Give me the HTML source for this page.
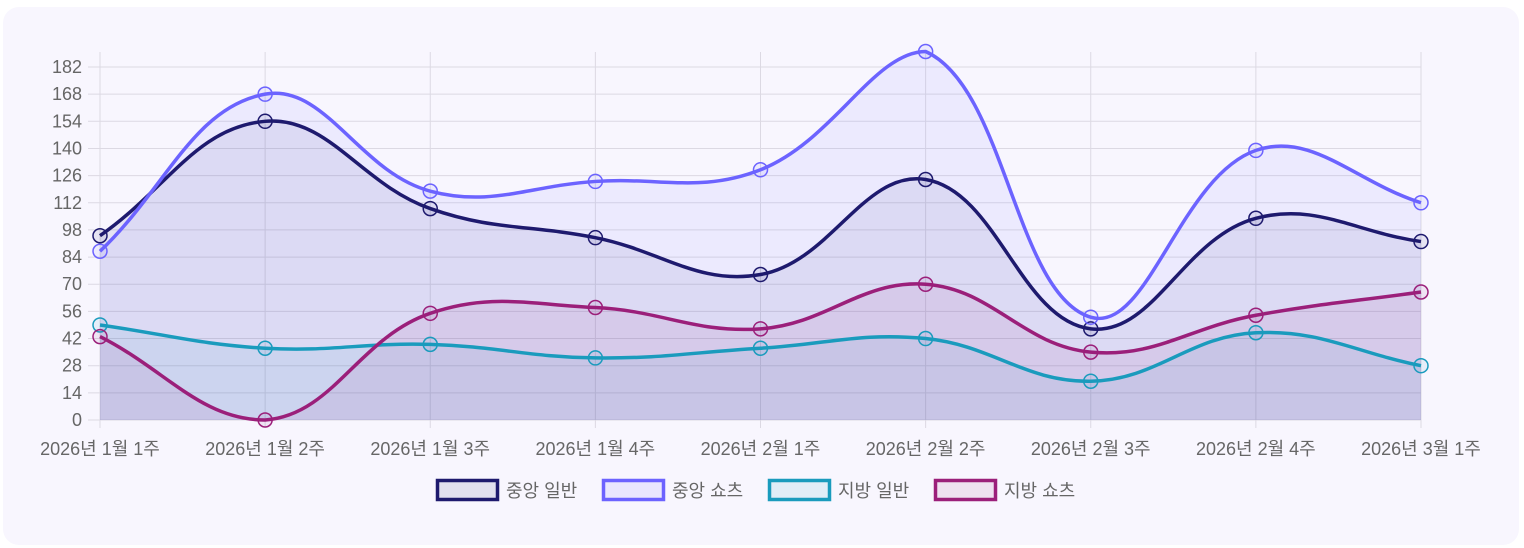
<!DOCTYPE html>
<html><head><meta charset="utf-8"><style>
html,body{margin:0;padding:0;background:#fff;}
body{width:1524px;height:548px;overflow:hidden;}
#card{position:absolute;left:3px;top:7px;width:1516px;height:538px;border-radius:16px;background:#f8f6fe;}
svg{position:absolute;left:0;top:0;}
text{font-family:"Liberation Sans","Noto Sans CJK KR",sans-serif;fill:#666;font-size:18px;}
</style></head><body>
<div id="card"></div>
<svg id="s" width="1524" height="548" xmlns="http://www.w3.org/2000/svg"></svg>
<script>
const s=document.getElementById('s');
const X0=100,DX=165.125,Y0=420,K=(420-67)/182,TOP=52;
const labels=['2026년 1월 1주','2026년 1월 2주','2026년 1월 3주','2026년 1월 4주','2026년 2월 1주','2026년 2월 2주','2026년 2월 3주','2026년 2월 4주','2026년 3월 1주'];
const ds=[
 {n:'중앙 일반',c:'#1e1a6e',f:'rgba(30,26,110,0.08)',d:[95,154,109,94,75,124,47,104,92]},
 {n:'중앙 쇼츠',c:'#6c63ff',f:'rgba(108,99,255,0.08)',d:[87,168,118,123,129,190,53,139,112]},
 {n:'지방 일반',c:'#1a9bbd',f:'rgba(26,155,189,0.08)',d:[49,37,39,32,37,42,20,45,28]},
 {n:'지방 쇼츠',c:'#9b1f7a',f:'rgba(155,31,122,0.08)',d:[43,0,55,58,47,70,35,54,66]}];
let h='';
for(let v=0;v<=182;v+=14){const y=Y0-v*K;h+=`<line x1="88" x2="1421" y1="${y}" y2="${y}" stroke="#dcd9e3" stroke-width="1"/><text x="82" y="${y+6}" text-anchor="end">${v}</text>`;}
for(let i=0;i<9;i++){const x=X0+i*DX;h+=`<line x1="${x}" x2="${x}" y1="${TOP}" y2="428" stroke="#dcd9e3" stroke-width="1"/><text x="${x}" y="455" text-anchor="middle">${labels[i]}</text>`;}
function path(pts){
 const t=0.4,cp=[];
 for(let i=0;i<pts.length;i++){const p=pts[i-1]||pts[i],c=pts[i],n=pts[i+1]||pts[i];
  const d01=Math.hypot(c[0]-p[0],c[1]-p[1]),d12=Math.hypot(n[0]-c[0],n[1]-c[1]);
  let s01=d01/(d01+d12),s12=d12/(d01+d12);if(isNaN(s01))s01=0;if(isNaN(s12))s12=0;
  const fa=t*s01,fb=t*s12;
  const cl=y=>Math.min(Y0,Math.max(TOP,y));
  cp.push({p:[c[0]-fa*(n[0]-p[0]),cl(c[1]-fa*(n[1]-p[1]))],n:[c[0]+fb*(n[0]-p[0]),cl(c[1]+fb*(n[1]-p[1]))]});}
 let d=`M${pts[0][0]},${pts[0][1]}`;
 for(let i=1;i<pts.length;i++)d+=` C${cp[i-1].n[0]},${cp[i-1].n[1]} ${cp[i].p[0]},${cp[i].p[1]} ${pts[i][0]},${pts[i][1]}`;
 return d;}
let lines='',pts='';
ds.forEach(o=>{const p=o.d.map((v,i)=>[X0+i*DX,Y0-v*K]);const d=path(p);
 h+=`<path d="${d} L${p[8][0]},${Y0} L${X0},${Y0}Z" fill="${o.f}"/>`;
 lines+=`<path d="${d}" fill="none" stroke="${o.c}" stroke-width="3.5"/>`;
 p.forEach(q=>pts+=`<circle cx="${q[0]}" cy="${q[1]}" r="7" fill="${o.f}" stroke="${o.c}" stroke-width="1.5"/>`);});
h+=lines+pts;
const lx=[436,602,768,934];
ds.forEach((o,i)=>{h+=`<rect x="${lx[i]+1.5}" y="480.5" width="60" height="19" fill="${o.f.replace('0.08','0.1')}" stroke="${o.c}" stroke-width="3.5"/><text x="${lx[i]+70}" y="497">${o.n}</text>`;});
s.innerHTML=h;
</script>
</body></html>
